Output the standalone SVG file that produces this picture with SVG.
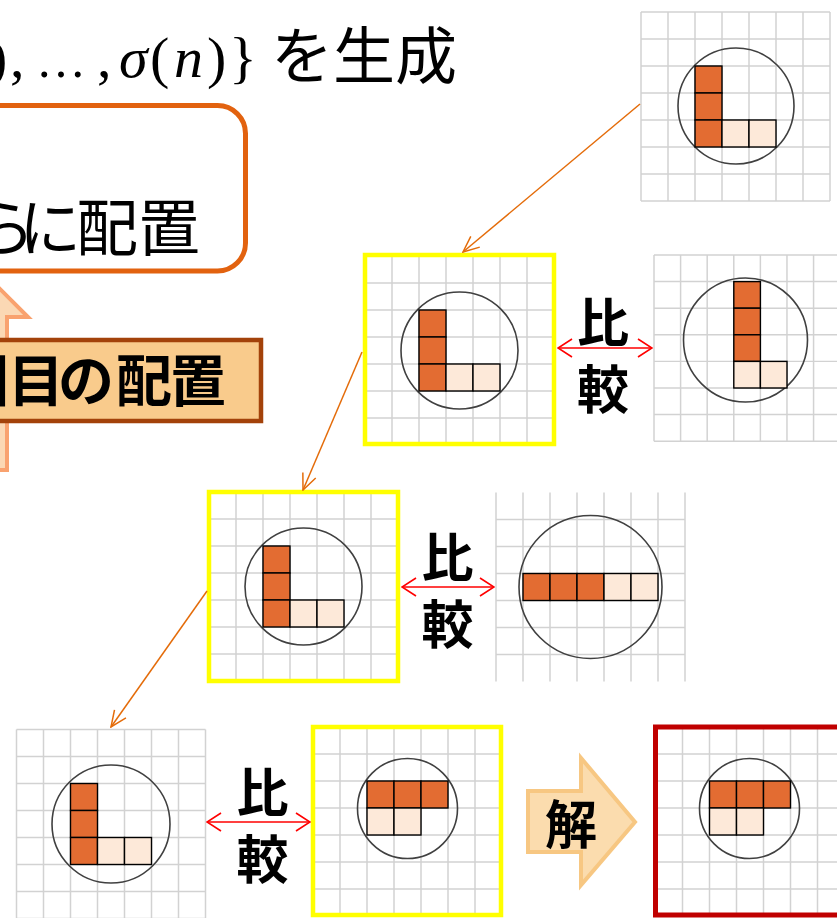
<svg xmlns="http://www.w3.org/2000/svg" xmlns:xlink="http://www.w3.org/1999/xlink" width="837" height="918" viewBox="0 0 837 918">
<style>
.gl{fill:none;stroke:#d2d2d2;stroke-width:1.5}
.ring{fill:none;stroke:#404040;stroke-width:1.6}
.o{fill:#e36c32;stroke:#000;stroke-width:1.4}
.l{fill:#fde9d9;stroke:#000;stroke-width:1.4}
.yel{fill:none;stroke:#ffff00;stroke-width:4.5}
.jp{font-family:"Noto Sans CJK JP","Noto Sans CJK SC",sans-serif;fill:#000}
.b{font-weight:bold}
.m{font-family:"Liberation Serif","DejaVu Serif",serif;font-size:58px;fill:#000}
.conn{fill:none;stroke:#e46c0a;stroke-width:1.5}
.cmp{fill:none;stroke:#ff0000;stroke-width:1.6}
</style>
<defs>
<path id="grid" class="gl" d="M0 0V189M27 0V189M54 0V189M81 0V189M108 0V189M135 0V189M162 0V189M189 0V189M0 0H189M0 27H189M0 54H189M0 81H189M0 108H189M0 135H189M0 162H189M0 189H189"/>
<path id="gridOpen" class="gl" d="M0 0V189M27 0V189M54 0V189M81 0V189M108 0V189M135 0V189M162 0V189M189 0V189M0 27H189M0 54H189M0 81H189M0 108H189M0 135H189M0 162H189"/>
<marker id="oa" markerUnits="userSpaceOnUse" viewBox="0 0 18 20" refX="17" refY="10" markerWidth="18" markerHeight="20" orient="auto">
<path d="M1,3 L17,10 L1,17" fill="none" stroke="#e46c0a" stroke-width="1.5"/>
</marker>
<marker id="ra" markerUnits="userSpaceOnUse" viewBox="0 0 16 20" refX="15" refY="10" markerWidth="16" markerHeight="20" orient="auto-start-reverse">
<path d="M1,1 L15,10 L1,19" fill="none" stroke="#ff0000" stroke-width="1.6"/>
</marker>
</defs>
<rect width="837" height="918" fill="#fff"/>

<g id="title">
<text class="m" y="77"><tspan x="-12">)</tspan><tspan x="10">,</tspan><tspan x="36" font-size="50">…</tspan><tspan x="97">,</tspan><tspan x="119" font-style="italic">σ</tspan><tspan x="150">(</tspan><tspan x="174" font-style="italic">n</tspan><tspan x="207">)</tspan><tspan x="229">}</tspan></text>
<text class="jp" x="271" y="79" font-size="62">を生成</text>
</g>

<g id="upArrow">
<polygon points="-17,272 28,317 7,317 7,470 -41,470 -41,317 -62,317" fill="#fbd8b4" stroke="#f9a26f" stroke-width="4"/>
</g>

<g id="rule">
<rect x="-300" y="105.5" width="545.5" height="165.5" rx="28" fill="#fff" stroke="#e2620f" stroke-width="5"/>
<text class="jp" y="251" font-size="62" x="-27 19 76 138">らに配置</text>
</g>

<g id="step">
<rect x="-100" y="340" width="361" height="81" fill="#f9cb8c" stroke="#a3420a" stroke-width="4.5"/>
<text class="jp b" y="401" font-size="56" x="-47 8 58 116 170">回目の配置</text>
</g>

<g id="g1">
<use xlink:href="#grid" x="641" y="12"/>
<circle class="ring" cx="736" cy="106" r="58"/>
<rect class="o" x="695" y="66" width="27" height="27"/>
<rect class="o" x="695" y="93" width="27" height="27"/>
<rect class="o" x="695" y="120" width="27" height="27"/>
<rect class="l" x="722" y="120" width="27" height="27"/>
<rect class="l" x="749" y="120" width="27" height="27"/>
</g>

<g id="g2">
<use xlink:href="#grid" x="365" y="256"/>
<circle class="ring" cx="459.5" cy="350.5" r="58.5"/>
<rect class="o" x="419" y="310" width="27" height="27"/>
<rect class="o" x="419" y="337" width="27" height="27"/>
<rect class="o" x="419" y="364" width="27" height="27"/>
<rect class="l" x="446" y="364" width="27" height="27"/>
<rect class="l" x="473" y="364" width="27" height="27"/>
<rect class="yel" x="365" y="255" width="189" height="189"/>
</g>

<g id="g3">
<use xlink:href="#grid" transform="translate(654,255) scale(0.985)"/>
<circle class="ring" cx="745.5" cy="340" r="62"/>
<rect class="o" x="733.8" y="281.6" width="26.6" height="26.6"/>
<rect class="o" x="733.8" y="308.2" width="26.6" height="26.6"/>
<rect class="o" x="733.8" y="334.8" width="26.6" height="26.6"/>
<rect class="l" x="733.8" y="361.4" width="26.6" height="26.6"/>
<rect class="l" x="760.4" y="361.4" width="26.6" height="26.6"/>
</g>

<g id="g4">
<use xlink:href="#grid" x="209" y="492"/>
<circle class="ring" cx="303.5" cy="586.5" r="58.5"/>
<rect class="o" x="263" y="546" width="27" height="27"/>
<rect class="o" x="263" y="573" width="27" height="27"/>
<rect class="o" x="263" y="600" width="27" height="27"/>
<rect class="l" x="290" y="600" width="27" height="27"/>
<rect class="l" x="317" y="600" width="27" height="27"/>
<rect class="yel" x="209" y="492" width="189" height="189"/>
</g>

<g id="g5">
<use xlink:href="#gridOpen" x="496" y="492.5"/>
<circle class="ring" cx="590.5" cy="587" r="71.5"/>
<rect class="o" x="523" y="573.5" width="27" height="27"/>
<rect class="o" x="550" y="573.5" width="27" height="27"/>
<rect class="o" x="577" y="573.5" width="27" height="27"/>
<rect class="l" x="604" y="573.5" width="27" height="27"/>
<rect class="l" x="631" y="573.5" width="27" height="27"/>
</g>

<g id="g6">
<use xlink:href="#grid" x="16.5" y="729.5"/>
<circle class="ring" cx="111" cy="824" r="59"/>
<rect class="o" x="70.5" y="783.5" width="27" height="27"/>
<rect class="o" x="70.5" y="810.5" width="27" height="27"/>
<rect class="o" x="70.5" y="837.5" width="27" height="27"/>
<rect class="l" x="97.5" y="837.5" width="27" height="27"/>
<rect class="l" x="124.5" y="837.5" width="27" height="27"/>
</g>

<g id="g7">
<use xlink:href="#grid" x="313" y="727"/>
<circle class="ring" cx="407.5" cy="808.5" r="50"/>
<rect class="o" x="367" y="781" width="27" height="27"/>
<rect class="o" x="394" y="781" width="27" height="27"/>
<rect class="o" x="421" y="781" width="27" height="27"/>
<rect class="l" x="367" y="808" width="27" height="27"/>
<rect class="l" x="394" y="808" width="27" height="27"/>
<rect class="yel" x="313" y="727" width="188" height="188"/>
</g>

<g id="g8">
<use xlink:href="#grid" x="655.5" y="727"/>
<circle class="ring" cx="749.5" cy="808.5" r="50"/>
<rect class="o" x="709.5" y="781" width="27" height="27"/>
<rect class="o" x="736.5" y="781" width="27" height="27"/>
<rect class="o" x="763.5" y="781" width="27" height="27"/>
<rect class="l" x="709.5" y="808" width="27" height="27"/>
<rect class="l" x="736.5" y="808" width="27" height="27"/>
<rect x="655.5" y="727" width="200" height="188" fill="none" stroke="#c00000" stroke-width="5"/>
</g>

<g id="answer">
<polygon points="528,791 581,791 581,758 635,822 581,885 581,852 528,852" fill="#fbdcae" stroke="#f7c782" stroke-width="4"/>
<text class="jp b" x="571" y="844" font-size="52" text-anchor="middle">解</text>
</g>

<g id="labels" class="jp b" font-size="52" text-anchor="middle">
<text x="603" y="342">比</text><text x="603" y="409">較</text>
<text x="447.5" y="577">比</text><text x="447.5" y="644">較</text>
<text x="262.5" y="812">比</text><text x="262.5" y="879">較</text>
</g>

<g id="connectors">
<line class="conn" x1="640" y1="104" x2="463" y2="252" marker-end="url(#oa)"/>
<line class="conn" x1="362" y1="352" x2="303" y2="490" marker-end="url(#oa)"/>
<line class="conn" x1="207" y1="591" x2="111" y2="727" marker-end="url(#oa)"/>
<line class="cmp" x1="558" y1="348" x2="652" y2="348" marker-start="url(#ra)" marker-end="url(#ra)"/>
<line class="cmp" x1="402" y1="587" x2="494" y2="587" marker-start="url(#ra)" marker-end="url(#ra)"/>
<line class="cmp" x1="207" y1="822" x2="310" y2="822" marker-start="url(#ra)" marker-end="url(#ra)"/>
</g>
</svg>
